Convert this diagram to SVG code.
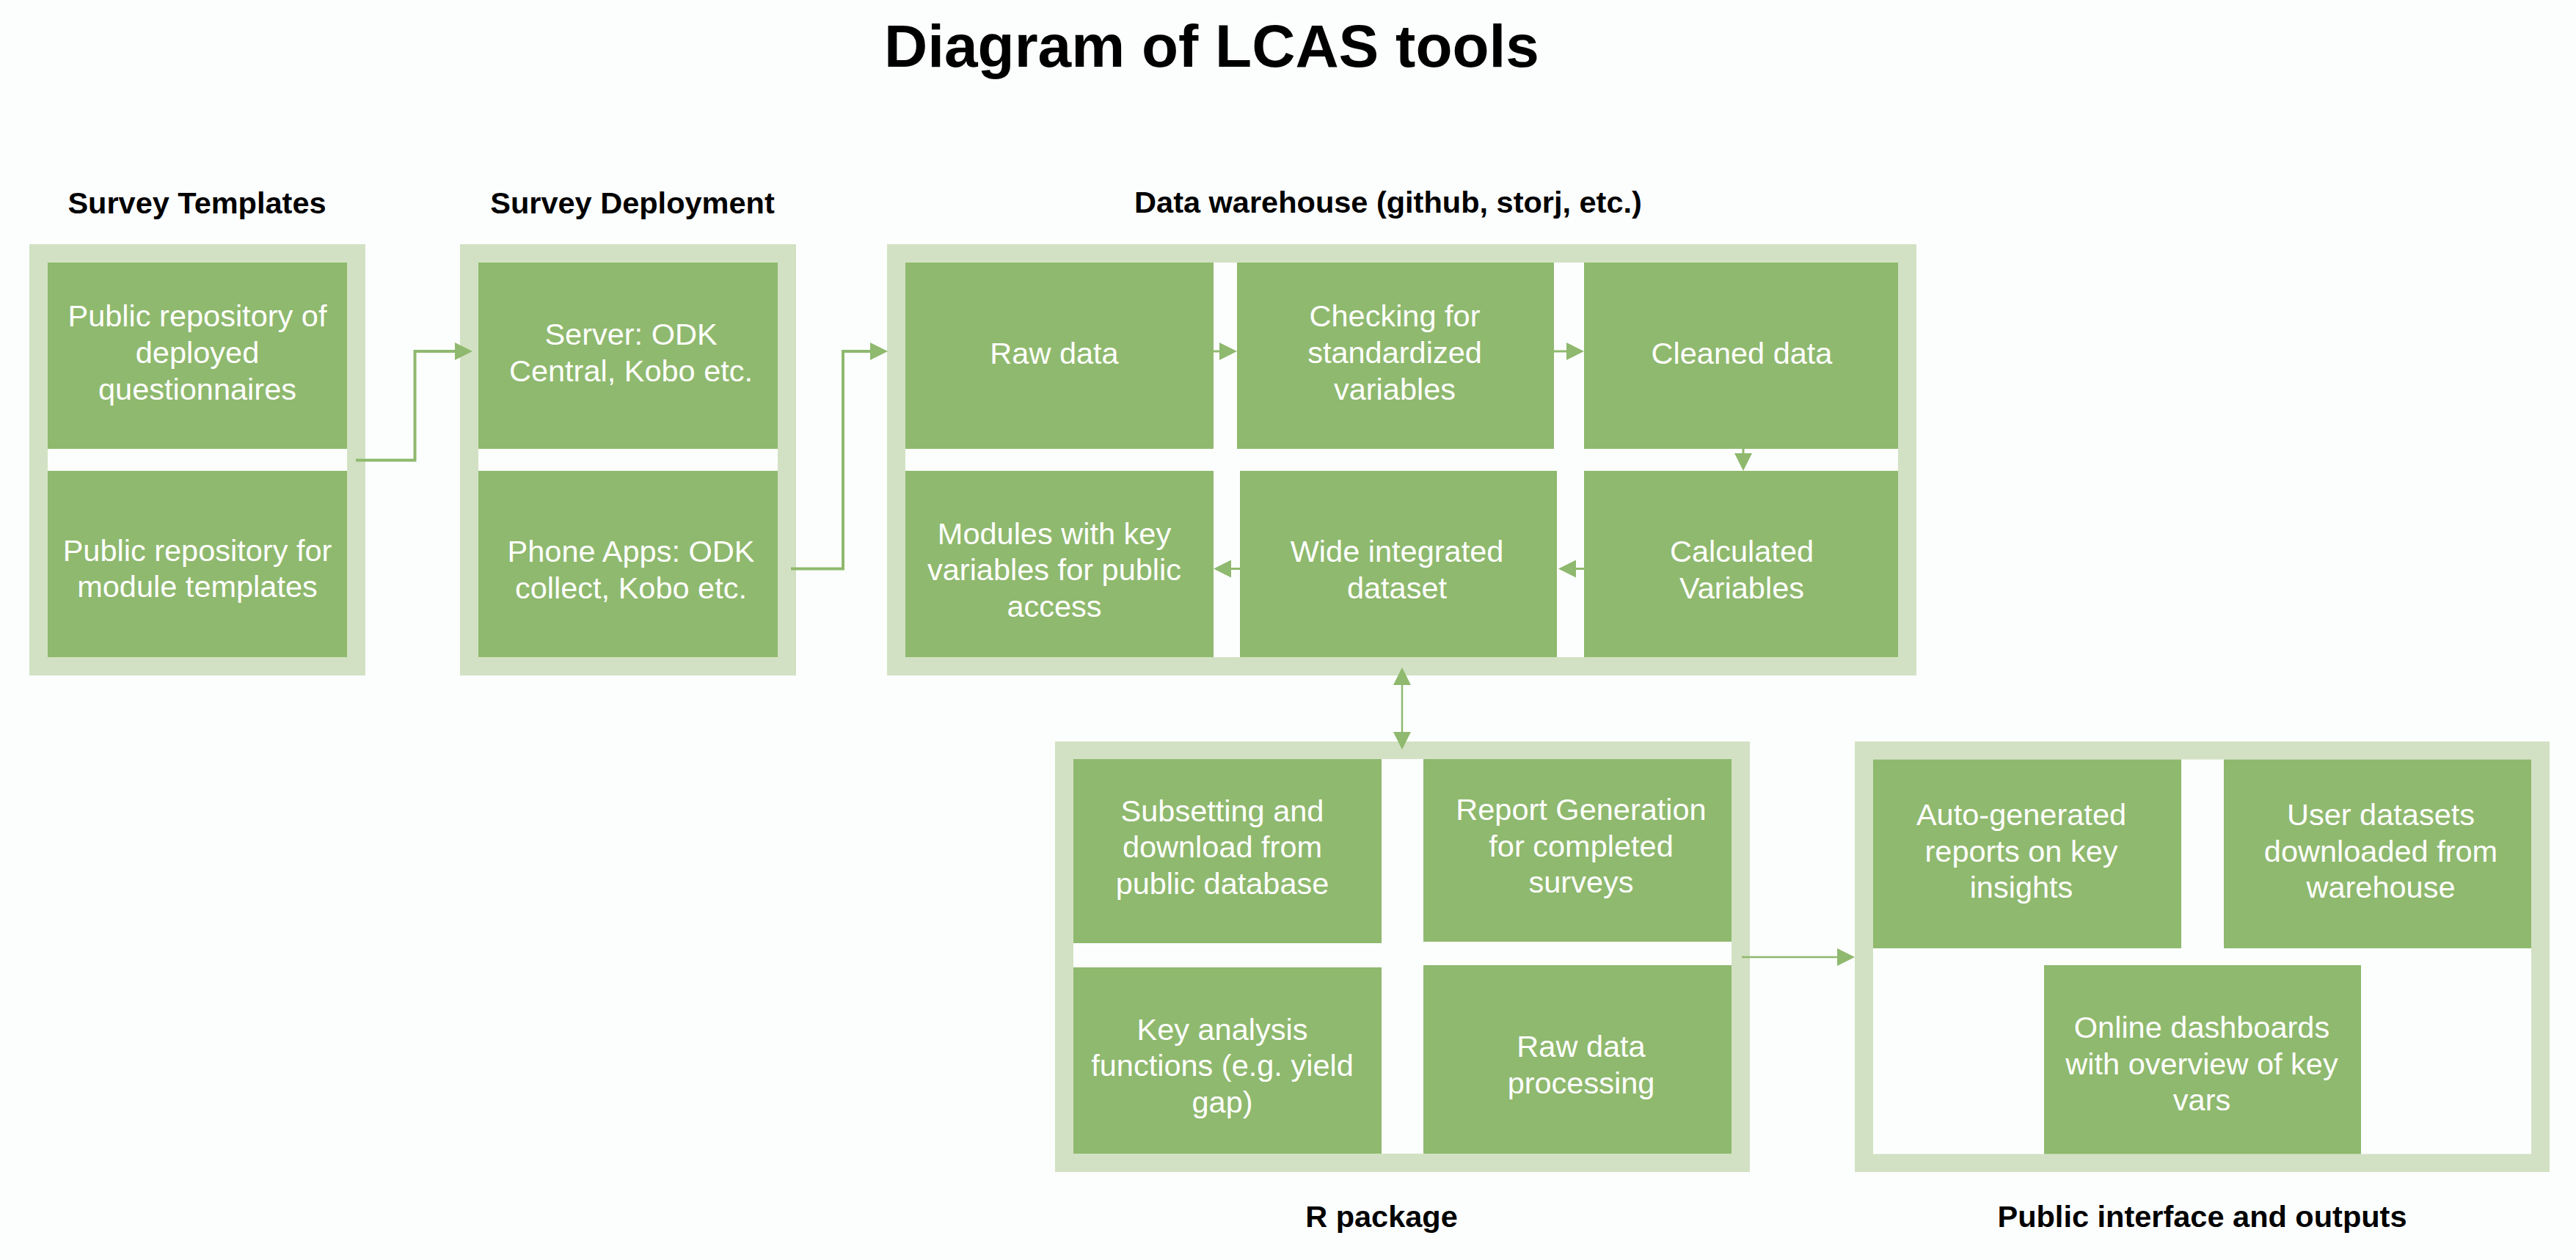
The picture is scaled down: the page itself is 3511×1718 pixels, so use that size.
<svg xmlns="http://www.w3.org/2000/svg" width="3511" height="1718" viewBox="0 0 3511 1718">
<style>
.bg{fill:#FCFEFE}
.outer{fill:#D2E1C3}
.inner{fill:#FCFEFE}
.box{fill:#8FB96E}
.t{font-family:"Liberation Sans",Arial,sans-serif;font-size:41.5px;fill:#FFFFFF;text-anchor:middle}
.h{font-family:"Liberation Sans",Arial,sans-serif;font-size:41.5px;font-weight:bold;fill:#000000;text-anchor:middle}
.title{font-family:"Liberation Sans",Arial,sans-serif;font-size:82px;font-weight:bold;fill:#000000;text-anchor:middle}
.c{fill:none;stroke:#8FB96E}
</style>
<defs>
<marker id="ah" markerUnits="userSpaceOnUse" markerWidth="24" markerHeight="24" viewBox="0 0 24 24" refX="14" refY="12" orient="auto-start-reverse">
<path d="M0,0 L24,12 L0,24 Z" fill="#8FB96E"/>
</marker>
</defs>
<rect class="bg" x="0" y="0" width="3511" height="1718"/>

<text id="title" class="title" x="1651.5" y="91">Diagram of LCAS tools</text>

<g id="survey-templates">
<text class="h" x="268.5" y="291">Survey Templates</text>
<rect class="outer" x="40" y="333" width="458" height="588"/>
<rect class="inner" x="65" y="358" width="408" height="538"/>
<g id="deployed-questionnaires">
<rect class="box" x="65" y="358" width="408" height="254"/>
<text class="t" x="269" y="445">Public repository of</text>
<text class="t" x="269" y="495">deployed</text>
<text class="t" x="269" y="544.5">questionnaires</text>
</g>
<g id="module-templates">
<rect class="box" x="65" y="642" width="408" height="254"/>
<text class="t" x="269" y="764.5">Public repository for</text>
<text class="t" x="269" y="814">module templates</text>
</g>
</g>

<g id="survey-deployment">
<text class="h" x="862" y="291">Survey Deployment</text>
<rect class="outer" x="627" y="333" width="458" height="588"/>
<rect class="inner" x="652" y="358" width="408" height="538"/>
<g id="server">
<rect class="box" x="652" y="358" width="408" height="254"/>
<text class="t" x="860" y="470">Server: ODK</text>
<text class="t" x="860" y="519.5">Central, Kobo etc.</text>
</g>
<g id="phone-apps">
<rect class="box" x="652" y="642" width="408" height="254"/>
<text class="t" x="860" y="766">Phone Apps: ODK</text>
<text class="t" x="860" y="815.5">collect, Kobo etc.</text>
</g>
</g>

<g id="data-warehouse">
<text class="h" x="1892" y="290">Data warehouse (github, storj, etc.)</text>
<rect class="outer" x="1209" y="333" width="1403" height="588"/>
<rect class="inner" x="1234" y="358" width="1353" height="538"/>
<g id="raw-data">
<rect class="box" x="1234" y="358" width="420" height="254"/>
<text class="t" x="1437" y="496">Raw data</text>
</g>
<g id="checking">
<rect class="box" x="1686" y="358" width="432" height="254"/>
<text class="t" x="1901" y="445">Checking for</text>
<text class="t" x="1901" y="495">standardized</text>
<text class="t" x="1901" y="545">variables</text>
</g>
<g id="cleaned-data">
<rect class="box" x="2159" y="358" width="428" height="254"/>
<text class="t" x="2374" y="495.5">Cleaned data</text>
</g>
<g id="modules-public">
<rect class="box" x="1234" y="642" width="420" height="254"/>
<text class="t" x="1437" y="741.5">Modules with key</text>
<text class="t" x="1437" y="791">variables for public</text>
<text class="t" x="1437" y="840.5">access</text>
</g>
<g id="wide-dataset">
<rect class="box" x="1690" y="642" width="432" height="254"/>
<text class="t" x="1904" y="766">Wide integrated</text>
<text class="t" x="1904" y="816">dataset</text>
</g>
<g id="calculated-variables">
<rect class="box" x="2159" y="642" width="428" height="254"/>
<text class="t" x="2374" y="766">Calculated</text>
<text class="t" x="2374" y="816">Variables</text>
</g>
</g>

<g id="r-package">
<text class="h" x="1883" y="1673">R package</text>
<rect class="outer" x="1438" y="1011" width="947" height="587"/>
<rect class="inner" x="1463" y="1035" width="897" height="538"/>
<g id="subsetting">
<rect class="box" x="1463" y="1035" width="420" height="251"/>
<text class="t" x="1666" y="1119.5">Subsetting and</text>
<text class="t" x="1666" y="1169">download from</text>
<text class="t" x="1666" y="1218.5">public database</text>
</g>
<g id="report-generation">
<rect class="box" x="1940" y="1035" width="420" height="249"/>
<text class="t" x="2155" y="1118">Report Generation</text>
<text class="t" x="2155" y="1167.5">for completed</text>
<text class="t" x="2155" y="1217">surveys</text>
</g>
<g id="key-analysis">
<rect class="box" x="1463" y="1319" width="420" height="254"/>
<text class="t" x="1666" y="1418.3">Key analysis</text>
<text class="t" x="1666" y="1467.3">functions (e.g. yield</text>
<text class="t" x="1666" y="1516.7">gap)</text>
</g>
<g id="raw-processing">
<rect class="box" x="1940" y="1316" width="420" height="257"/>
<text class="t" x="2155" y="1441">Raw data</text>
<text class="t" x="2155" y="1491">processing</text>
</g>
</g>

<g id="public-interface">
<text class="h" x="3001.5" y="1673">Public interface and outputs</text>
<rect class="outer" x="2528" y="1011" width="947" height="587"/>
<rect class="inner" x="2553" y="1035.5" width="897" height="538"/>
<g id="auto-reports">
<rect class="box" x="2553" y="1035.5" width="420" height="257.5"/>
<text class="t" x="2755" y="1125">Auto-generated</text>
<text class="t" x="2755" y="1174.5">reports on key</text>
<text class="t" x="2755" y="1224">insights</text>
</g>
<g id="user-datasets">
<rect class="box" x="3031" y="1035.5" width="419" height="257.5"/>
<text class="t" x="3245" y="1125">User datasets</text>
<text class="t" x="3245" y="1174.5">downloaded from</text>
<text class="t" x="3245" y="1224">warehouse</text>
</g>
<g id="online-dashboards">
<rect class="box" x="2786" y="1316" width="432" height="257.5"/>
<text class="t" x="3001" y="1415">Online dashboards</text>
<text class="t" x="3001" y="1465">with overview of key</text>
<text class="t" x="3001" y="1514">vars</text>
</g>
</g>

<g id="connectors">
<path class="c" stroke-width="4" d="M485,627.5 H565.5 V479 H634" marker-end="url(#ah)"/>
<path class="c" stroke-width="4" d="M1078,775.5 H1149 V479 H1200" marker-end="url(#ah)"/>
<path class="c" stroke-width="3" d="M1654,479 H1676" marker-end="url(#ah)"/>
<path class="c" stroke-width="3" d="M2118,479 H2149" marker-end="url(#ah)"/>
<path class="c" stroke-width="3" d="M2376,612 V632" marker-end="url(#ah)"/>
<path class="c" stroke-width="3" d="M2159,775.5 H2134" marker-end="url(#ah)"/>
<path class="c" stroke-width="3" d="M1690,775.5 H1664" marker-end="url(#ah)"/>
<path class="c" stroke-width="2.5" d="M1911,920 V1012" marker-start="url(#ah)" marker-end="url(#ah)"/>
<path class="c" stroke-width="2.5" d="M2374,1305 H2518" marker-end="url(#ah)"/>
</g>
</svg>
